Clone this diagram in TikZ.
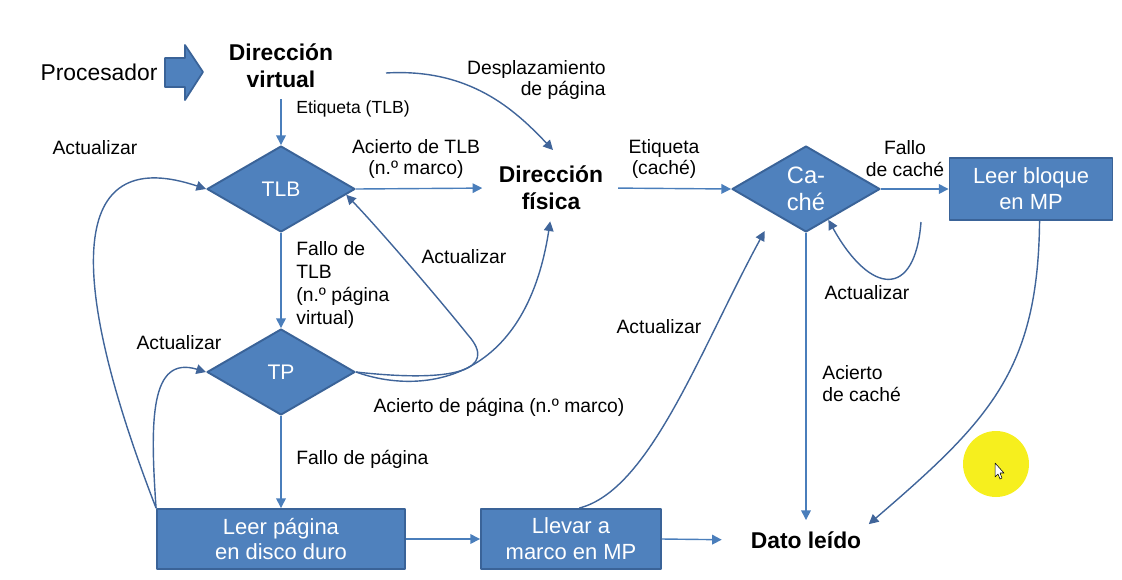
\documentclass[tikz,border=0pt]{standalone}
\usepackage{fontspec}
\setmainfont{Liberation Sans}
\usetikzlibrary{shapes.geometric,arrows.meta}
\definecolor{boxblue}{HTML}{4F81BD}
\definecolor{boxedge}{HTML}{3A6398}
\definecolor{lineblue}{HTML}{4A7EBB}
\definecolor{curveblue}{HTML}{40659A}
\definecolor{marker}{HTML}{F6EF1E}

\begin{document}
\begin{tikzpicture}[x=0.02cm, y=-0.02cm, line join=round, >={Triangle[length=5.5pt,width=5.5pt]},
  font=\fontsize{11}{12.5}\selectfont,
  decision/.style={diamond, draw=boxedge, line width=1.1pt, fill=boxblue, text=white, align=center, inner sep=0pt, minimum width=2.96cm, minimum height=1.72cm, font=\fontsize{12}{15.3}\selectfont},
  process/.style={rectangle, draw=boxedge, line width=1.1pt, fill=boxblue, text=white, align=center, minimum height=1.2cm, font=\fontsize{12.5}{14.7}\selectfont},
  title/.style={align=center, font=\fontsize{13}{15.3}\selectfont\bfseries},
  lbl/.style={align=left, inner sep=0pt},
  flow/.style={->, draw=lineblue, line width=0.8pt},
  curveline/.style={->, draw=curveblue, line width=0.8pt}]
\useasboundingbox (0,0) rectangle (1122,579);

% nodos
\node (proc) at (99,72) {\fontsize{13}{15}\selectfont Procesador};
\node[title] (dv) at (281,66) {Dirección\\virtual};
\node[decision] (tlb) at (281,189) {TLB};
\node[decision] (tp) at (281,372) {TP};
\node[title] (df) at (551,188) {Dirección\\física};
\node[decision, font=\fontsize{13.5}{15.5}\selectfont] (cache) at (806,189) {Ca-\\ché};
\node[process, minimum width=3.26cm, minimum height=1.24cm] (lb) at (1031,189) {Leer bloque\\en MP};
\node[process, minimum width=4.96cm] (lp) at (281,539) {Leer página\\en disco duro};
\node[process, minimum width=3.6cm] (lm) at (571,539) {Llevar a\\marco en MP};
\node[title] (dato) at (806,540) {Dato leído};
\coordinate (dvr) at (386,73);
\coordinate (cl) at (921,222);

% flecha de bloque
\draw[fill=boxblue, draw=boxedge, line width=1pt] (165,58) -- (185,58) -- (185,45) -- (203,72) -- (185,100) -- (185,87) -- (165,87) -- cycle;

% conectores
\draw[flow, shorten <=3pt] (dv.south) -- (tlb.north);
\draw[curveline] (dvr) .. controls (470,68) and (515,110) .. (553,150);
\draw[flow, shorten >=6pt] (tlb.east) -- (df.west);
\draw[flow] (tlb.south) -- (tp.north);
\draw[curveline] (tp.east) .. controls (455,383) and (499,370) .. (468,335) .. controls (440,300) and (380,230) .. (tlb.-5);
\draw[curveline, shorten >=3pt] (tp.east) .. controls (420,395) and (525,385) .. (df.south);
\draw[flow] (tp.south) -- (lp.north);
\draw[curveline] (lp.north west) .. controls (150,420) and (150,355) .. (tp.west);
\draw[curveline] (lp.north west) .. controls (60,260) and (75,145) .. (tlb.west);
\draw[flow] (lp.east) -- (lm.west);
\draw[flow, shorten >=13pt] (lm.east) -- (dato.west);
\draw[curveline, shorten >=11pt] (lm.75) .. controls (650,490) and (700,350) .. (cache.-142);
\draw[flow, shorten <=5pt] (df.east) -- (cache.west);
\draw[flow] (cache.east) -- (lb.west);
\draw[flow, shorten >=3pt] (cache.south) -- (dato.north);
\draw[curveline] (cl) .. controls (915,300) and (870,295) .. (cache.-54);
\draw[curveline, shorten >=1pt] (lb.-75) .. controls (1038,370) and (990,420) .. (dato.north east);

% etiquetas
\node[lbl, anchor=west, font=\fontsize{10}{12}\selectfont] (etq1) at (296,109) {Etiqueta (TLB)};
\node[lbl, align=right, anchor=east] (desp) at (606,80) {Desplazamiento\\de página};
\node[lbl, align=center] (acTLB) at (416,159) {Acierto de TLB\\(n.º marco)};
\node[lbl] (act1) at (95,148) {Actualizar};
\node[lbl, anchor=west, font=\fontsize{11}{13.2}\selectfont] (faTLB) at (296,285) {Fallo de\\TLB\\(n.º página\\virtual)};
\node[lbl] (act2) at (464,257) {Actualizar};
\node[lbl] (act3) at (179,343) {Actualizar};
\node[lbl] (acPag) at (499,407) {Acierto de página (n.º marco)};
\node[lbl, anchor=west] (faPag) at (296,459) {Fallo de página};
\node[lbl] (act4) at (659,327) {Actualizar};
\node[lbl, align=center] (etq2) at (664,159) {Etiqueta\\(caché)};
\node[lbl, align=center] (faCache) at (905,159) {Fallo\\de caché};
\node[lbl] (act5) at (867,293) {Actualizar};
\node[lbl, anchor=west] (acCache) at (822,384) {Acierto\\de caché};

% puntero
\fill[marker] (996,464) circle (0.66cm);
\draw[fill=white, line width=0.3pt] (995,463) -- (995,477) -- (998,474) -- (1000,479) -- (1002,478) -- (1000,473) -- (1004,473) -- cycle;
\end{tikzpicture}
\end{document}
